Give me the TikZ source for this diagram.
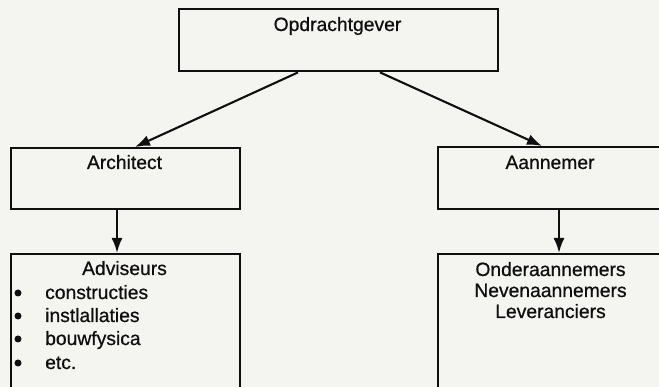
\documentclass[tikz,border=0pt]{standalone}
\usepackage{fontspec}
\setmainfont{Liberation Sans}
\newfontfamily\lblfont{Liberation Sans}[FakeBold=0.7]
\usetikzlibrary{arrows.meta}
\definecolor{paper}{RGB}{244,244,241}
\definecolor{ink}{RGB}{15,15,15}
\tikzset{
  box/.style={draw=ink, line width=2.4pt, rectangle, inner sep=0pt},
  lbl/.style={inner sep=0pt, anchor=base, font=\lblfont\fontsize{19.3}{22}\selectfont, text=ink},
  link/.style={draw=ink, line width=2.1pt, -{Latex[length=15pt,width=11pt]}},
  dot/.style={circle, fill=ink, inner sep=0pt, minimum size=7pt},
}
\begin{document}
\begin{tikzpicture}[x=1pt, y=-1pt]
  \useasboundingbox (0,0) rectangle (659,387);
  \fill[paper] (0,0) rectangle (659,387);
  \clip (0,0) rectangle (659,387);

  % boxes
  \node[box, minimum width=319pt, minimum height=62pt, anchor=north west] (opd) at (178,8) {};
  \node[box, minimum width=229pt, minimum height=61pt, anchor=north west] (arch) at (10,147) {};
  \node[box, minimum width=228pt, minimum height=62pt, anchor=north west] (aan) at (437,146) {};
  \node[box, minimum width=229pt, minimum height=150pt, anchor=north west] (adv) at (10,253) {};
  \node[box, minimum width=228pt, minimum height=150pt, anchor=north west] (ond) at (437,253) {};

  % labels
  \node[lbl] (opdt) at (337.5,31) {Opdrachtgever};
  \node[lbl] (archt) at (124.5,169) {Architect};
  \node[lbl] (aant) at (550,169) {Aannemer};

  \node[lbl] (advt) at (124.5,275) {Adviseurs};
  \node[lbl, anchor=base west] (i1) at (45,299) {constructies};
  \node[lbl, anchor=base west] (i2) at (45,322) {instlallaties};
  \node[lbl, anchor=base west] (i3) at (45,345) {bouwfysica};
  \node[lbl, anchor=base west] (i4) at (45,369) {etc.};
  \node[dot] (b1) at (18,293) {};
  \node[dot] (b2) at (18,316) {};
  \node[dot] (b3) at (18,339) {};
  \node[dot] (b4) at (18,363) {};

  \node[lbl] (o1) at (550.5,276) {Onderaannemers};
  \node[lbl] (o2) at (550.5,297) {Nevenaannemers};
  \node[lbl] (o3) at (550.5,318) {Leveranciers};

  % connectors
  \draw[link] ([xshift=120pt]opd.south west) -- ([xshift=125pt]arch.north west);
  \draw[link] ([xshift=202pt]opd.south west) -- ([xshift=105pt]aan.north west);
  \draw[link] ([xshift=107pt]arch.south west) -- ([xshift=107pt]adv.north west);
  \draw[link] ([xshift=122pt]aan.south west) -- ([xshift=122pt]ond.north west);
\end{tikzpicture}
\end{document}
